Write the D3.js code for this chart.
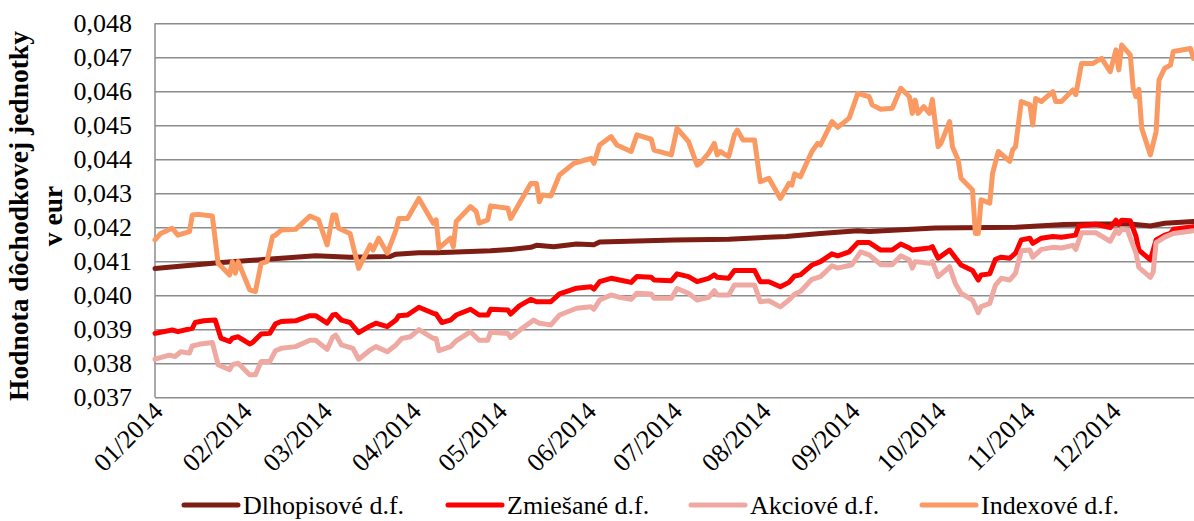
<!DOCTYPE html>
<html>
<head>
<meta charset="utf-8">
<script src="https://cdn.jsdelivr.net/npm/d3@7"></script>
<style>
  body { margin: 0; background: #fff; }
  svg text { font-family: "Liberation Serif", "Times New Roman", serif; fill: #000; }
</style>
</head>
<body>
<div id="chart"></div>
<script>
// Month labels on the x axis and value ticks on the y axis
const monthLabels = ['01/2014', '02/2014', '03/2014', '04/2014', '05/2014', '06/2014',
  '07/2014', '08/2014', '09/2014', '10/2014', '11/2014', '12/2014'];
const yTicks = [0.037, 0.038, 0.039, 0.040, 0.041, 0.042, 0.043, 0.044, 0.045, 0.046, 0.047, 0.048];
const seriesNames = ['Dlhopisové d.f.', 'Zmiešané d.f.', 'Akciové d.f.', 'Indexové d.f.'];

// Series values as [day of 2014 (0 = 1 Jan), value in eur]
const dlhopisove = [[0, .04079], [22, .04096], [39, .04106], [56, .04116], [68, .04112], [82, .04114],
  [84, .04121], [92, .04125], [98, .04125], [117, .04131], [124, .04135], [131, .04141], [133, .04147],
  [139, .04143], [147, .04151], [153, .04149], [155, .04157], [165, .04159], [181, .04163], [200, .04165],
  [220, .04173], [232, .04182], [245, .0419], [249, .04188], [272, .04198], [300, .042], [317, .04208],
  [328, .0421], [340, .0421], [347, .04204], [352, .04212], [362, .04217]];

const zmiesane = [[0, .03888], [6, .03898], [8, .03893], [13, .03903], [14, .0392], [17, .03925], [21, .03927],
  [23, .03874], [26, .03864], [27, .03874], [29, .03878], [33, .03857], [34, .03861], [37, .03886], [40, .03888],
  [42, .03916], [44, .03923], [49, .03925], [54, .0394], [56, .0394], [60, .03918], [62, .03942], [63, .03944],
  [65, .03927], [68, .0392], [71, .0389], [75, .0391], [77, .03918], [81, .03908], [84, .03927], [85, .0394],
  [88, .03942], [92, .03965], [97, .03947], [98, .03945], [100, .0392], [103, .03927], [105, .03942],
  [110, .03959], [113, .03942], [116, .03942], [117, .03959], [123, .03957], [124, .03945], [127, .03969],
  [131, .03988], [133, .03981], [138, .03981], [141, .04004], [147, .04021], [152, .04025], [153, .04018],
  [155, .0404], [159, .0405], [162, .04045], [166, .04038], [168, .04055], [173, .04053], [174, .04045],
  [180, .04043], [182, .04063], [186, .04055], [189, .0404], [193, .0405], [195, .0406], [196, .04053],
  [200, .0405], [202, .04073], [209, .04073], [211, .0404], [214, .0404], [218, .04025], [221, .04038],
  [223, .04057], [225, .0406], [229, .04089], [232, .04099], [236, .04122], [238, .04116], [242, .04128],
  [245, .04155], [249, .04155], [253, .04133], [257, .04133], [260, .04151], [263, .04139], [264, .04133],
  [270, .04139], [271, .04143], [273, .04109], [277, .04133], [281, .04089], [285, .04073], [287, .04045],
  [288, .0406], [291, .04063], [293, .04106], [295, .04112], [298, .04109], [300, .04124], [302, .04163],
  [305, .04168], [306, .04153], [309, .04168], [313, .04173], [316, .04171], [321, .04177], [322, .04204],
  [328, .04209], [333, .04199], [335, .04221], [336, .04209], [337, .04221], [340, .04219], [342, .04173],
  [343, .04133], [347, .04104], [349, .04163], [352, .04177], [354, .04182], [355, .04194], [362, .04202]];

const akciove = [[0, .03812], [5, .03824], [7, .0382], [9, .03834], [12, .0383], [13, .03851], [16, .03857],
  [20, .03861], [22, .03796], [26, .03781], [27, .03796], [29, .038], [33, .03766], [35, .03766], [37, .03805],
  [40, .03805], [42, .03837], [44, .03844], [49, .03849], [54, .03868], [56, .03868], [60, .03841], [62, .03878],
  [63, .03883], [65, .03854], [69, .03844], [71, .03812], [75, .03839], [77, .03849], [81, .03834], [84, .03854],
  [86, .03873], [89, .03878], [92, .03899], [97, .03873], [98, .03873], [99, .03837], [103, .03849],
  [105, .03866], [110, .03893], [113, .03868], [116, .03868], [117, .03891], [123, .03888], [124, .03876],
  [128, .03903], [132, .03927], [134, .03918], [138, .03913], [141, .03942], [147, .03962], [152, .03966],
  [153, .03959], [155, .03986], [159, .04001], [162, .03994], [166, .03988], [168, .04006], [173, .04004],
  [174, .03991], [180, .03991], [182, .0402], [186, .04006], [189, .03986], [193, .03994], [195, .04014],
  [196, .04001], [200, .04001], [202, .0403], [209, .0403], [211, .03981], [214, .03984], [218, .03966],
  [221, .03986], [223, .04004], [225, .04011], [229, .04047], [232, .04055], [236, .04087], [238, .0408],
  [243, .0409], [246, .04128], [249, .04119], [253, .0409], [257, .0409], [260, .04116], [263, .04104],
  [264, .0408], [265, .04099], [270, .04094], [271, .04099], [273, .04055], [277, .04084], [279, .04035],
  [281, .04006], [285, .03986], [287, .03949], [288, .03967], [291, .03976], [293, .0403], [295, .0405],
  [298, .04045], [300, .04065], [302, .04131], [305, .04133], [306, .04112], [309, .04135], [313, .04141],
  [316, .04139], [320, .04147], [321, .04135], [323, .04184], [328, .04184], [333, .04159], [335, .0419],
  [336, .04182], [337, .04194], [339, .04192], [342, .04124], [343, .04082], [347, .04053], [348, .04069],
  [349, .04155], [352, .04171], [355, .04182], [362, .0419]];

const indexove = [[0, .04163], [2, .04182], [6, .04197], [8, .04177], [12, .04187], [13, .04236], [15, .04238],
  [20, .04233], [22, .04094], [26, .0406], [27, .04099], [28, .04065], [29, .04099], [33, .04016], [35, .04011],
  [37, .04094], [39, .04099], [41, .04173], [42, .04177], [44, .04192], [49, .04194], [54, .04233], [56, .04226],
  [57, .04222], [60, .04148], [62, .04236], [63, .04236], [64, .04197], [68, .04182], [71, .04079], [75, .04148],
  [76, .04133], [78, .04168], [81, .04124], [84, .04192], [85, .04226], [88, .04226], [92, .04285], [97, .04212],
  [98, .04222], [99, .04139], [103, .04168], [104, .04143], [105, .04217], [110, .04261], [112, .04246],
  [113, .04212], [116, .04222], [117, .04263], [123, .04256], [124, .04226], [128, .04285], [131, .04329],
  [133, .04329], [134, .04275], [135, .04295], [138, .04292], [141, .04354], [146, .04388], [150, .04398],
  [152, .04403], [153, .04388], [155, .04442], [159, .04467], [161, .04442], [166, .04423], [168, .04472],
  [173, .04459], [174, .04427], [180, .04413], [182, .04491], [186, .04452], [189, .04383], [190, .04388],
  [193, .04418], [195, .04447], [196, .04413], [197, .04423], [200, .04408], [202, .04472], [203, .04486],
  [205, .04457], [209, .04457], [211, .04334], [214, .04344], [216, .04315], [218, .04285], [221, .04329],
  [222, .04324], [223, .04357], [225, .04349], [229, .04423], [231, .04447], [232, .04442], [236, .04511],
  [238, .04494], [242, .04521], [245, .04594], [249, .04584], [250, .0456], [253, .04547], [257, .0455],
  [260, .04609], [263, .04584], [264, .04535], [265, .04574], [266, .04535], [268, .04555], [270, .04535],
  [271, .04576], [273, .04437], [274, .04447], [277, .04511], [278, .04437], [280, .04398], [281, .04344],
  [285, .0431], [286, .04182], [287, .04182], [288, .04281], [291, .04271], [292, .04359], [294, .04423],
  [298, .04394], [299, .04428], [300, .04437], [302, .0457], [305, .0456], [306, .04501], [307, .04579],
  [309, .0457], [313, .04599], [314, .0457], [316, .0457], [320, .04604], [321, .0459], [323, .04682],
  [327, .04682], [330, .04697], [333, .04658], [335, .04722], [336, .04663], [337, .04736], [340, .04707],
  [341, .04609], [342, .04584], [343, .04606], [344, .04491], [347, .04413], [349, .04481], [350, .04633],
  [352, .04668], [354, .04677], [355, .04717], [361, .04726], [362, .04697]];

const seriesData = [dlhopisove, zmiesane, akciove, indexove];
const seriesColors = ['#7d1d13', '#ff0000', '#eea9a3', '#fa9a62'];

const width = 1194;
const height = 521;
const margin = { top: 23.3, left: 155, bottom: 397.3 };
const start = new Date(2014, 0, 1);

const svg = d3
  .select('#chart')
  .append('svg')
  .attr('width', width)
  .attr('height', height)
  .style('background', '#fff');

// Scales: time axis runs slightly past the picture's right edge
const xScale = d3.scaleTime().domain([start, new Date(2015, 0, 1)]).range([margin.left, 1202]);
const yScale = d3.scaleLinear().domain([0.037, 0.048]).range([margin.bottom, margin.top]);
const toDate = (d) => d3.timeDay.offset(start, d);
const fmt = (v) => d3.format('.3f')(v).replace('.', ',');

// Horizontal gridlines
svg
  .append('g')
  .attr('class', 'grid')
  .attr('transform', `translate(${margin.left},0)`)
  .call(d3.axisLeft(yScale).tickValues(yTicks).tickSize(-(1202 - margin.left)).tickFormat(''))
  .call((g) => g.select('.domain').remove())
  .call((g) => g.selectAll('line').attr('stroke', '#8c8c8c').attr('stroke-width', 1.5));

// Left axis line
svg
  .append('line')
  .attr('x1', margin.left)
  .attr('x2', margin.left)
  .attr('y1', yScale(0.048))
  .attr('y2', yScale(0.037))
  .attr('stroke', '#8c8c8c')
  .attr('stroke-width', 1.5);

// Y tick labels
svg
  .append('g')
  .selectAll('text')
  .data(yTicks)
  .join('text')
  .attr('x', 132)
  .attr('y', (d) => yScale(d))
  .attr('dy', '0.35em')
  .attr('text-anchor', 'end')
  .style('font-size', '26px')
  .text(fmt);

// X labels, rotated, one per month
const months = d3.timeMonth.range(start, new Date(2015, 0, 1));
svg
  .append('g')
  .selectAll('text')
  .data(months)
  .join('text')
  .attr('text-anchor', 'end')
  .attr('dy', '0.35em')
  .attr('transform', (d) => `translate(${xScale(d) + 3},${margin.bottom + 9}) rotate(-45)`)
  .style('font-size', '26px')
  .text((d, i) => monthLabels[i]);

// Y axis title
const title = svg
  .append('text')
  .attr('transform', `translate(0,216) rotate(-90)`)
  .attr('text-anchor', 'middle')
  .style('font-size', '27.5px')
  .style('font-weight', 'bold');
title.append('tspan').attr('x', 0).attr('y', 28).text('Hodnota dôchodkovej jednotky');
title.append('tspan').attr('x', 0).attr('y', 62).text('v eur');

// Lines
const line = d3
  .line()
  .x((d) => xScale(toDate(d[0])))
  .y((d) => yScale(d[1]));

svg
  .append('g')
  .selectAll('path')
  .data(seriesData)
  .join('path')
  .attr('fill', 'none')
  .attr('stroke', (d, i) => seriesColors[i])
  .attr('stroke-width', 5)
  .attr('stroke-linejoin', 'round')
  .attr('stroke-linecap', 'round')
  .attr('d', line);

// Legend
const legendX = [184, 448, 691, 922];
const legend = svg
  .append('g')
  .selectAll('g')
  .data(seriesNames)
  .join('g')
  .attr('transform', (d, i) => `translate(${legendX[i]},505)`);
legend
  .append('line')
  .attr('x1', 0)
  .attr('x2', 54)
  .attr('stroke', (d, i) => seriesColors[i])
  .attr('stroke-width', 5)
  .attr('stroke-linecap', 'round');
legend
  .append('text')
  .attr('x', 59)
  .attr('dy', '0.35em')
  .style('font-size', '26px')
  .text((d) => d);
</script>
</body>
</html>
